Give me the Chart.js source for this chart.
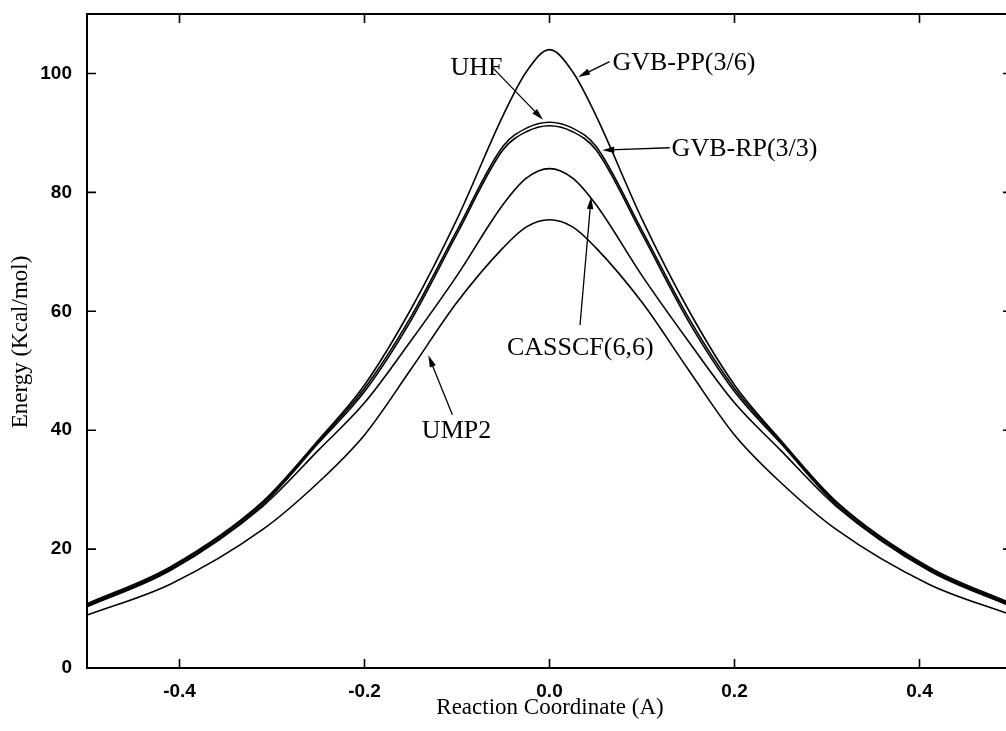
<!DOCTYPE html>
<html>
<head>
<meta charset="utf-8">
<title>Energy profile</title>
<script src="https://cdn.jsdelivr.net/npm/chart.js@4.4.0/dist/chart.umd.min.js"></script>
<style>
  html, body { margin: 0; padding: 0; background: #fff; overflow: hidden; }
  #canvas { display: block; }
</style>
</head>
<body>
<canvas id="canvas" width="1030" height="731"></canvas>
<script>
// reaction coordinate (A)
var coord  = [-0.5, -0.41, -0.31, -0.25, -0.2, -0.15, -0.1, -0.05, -0.025, 0, 0.025, 0.05, 0.1, 0.15, 0.2, 0.25, 0.31, 0.41, 0.5];

// energies (Kcal/mol)
var gvbPP  = [10.8, 17.0, 28.0, 38.3, 47.6, 60.3, 75.5, 93.0, 100.3, 104.0, 100.3, 93.0, 75.5, 60.3, 47.6, 38.3, 28.0, 17.0, 10.8];
var uhf    = [10.6, 16.8, 27.8, 38.1, 47.0, 59.0, 73.6, 87.8, 90.8, 91.8, 90.8, 87.8, 73.6, 59.0, 47.0, 38.1, 27.8, 16.8, 10.6];
var gvbRP  = [10.4, 16.6, 27.5, 37.8, 46.5, 58.4, 73.0, 87.2, 90.2, 91.2, 90.2, 87.2, 73.0, 58.4, 46.5, 37.8, 27.5, 16.6, 10.4];
var casscf = [10.3, 16.4, 27.2, 36.6, 44.6, 55.0, 66.0, 78.0, 82.4, 84.0, 82.4, 78.0, 66.0, 55.0, 44.6, 36.6, 27.2, 16.4, 10.3];
var ump2   = [8.9, 14.1, 23.3, 31.2, 39.2, 50.2, 61.5, 70.7, 74.2, 75.4, 74.2, 70.7, 61.5, 50.2, 39.2, 31.2, 23.3, 14.1, 8.9];

var xTicks = [-0.4, -0.2, 0, 0.2, 0.4];
var yTicks = [0, 20, 40, 60, 80, 100];

// curve labels: text anchor, arrow start and arrow tip, all in axis units
var notes = [
    { text: "GVB-PP(3/6)", at: [0.068, 100.6], from: [0.065, 102.0], to: [0.031, 99.4] },
    { text: "UHF",         at: [-0.107, 99.7], from: [-0.061, 100.9], to: [-0.007, 92.2] },
    { text: "GVB-RP(3/3)", at: [0.132, 86.1],  from: [0.130, 87.5],  to: [0.057, 87.1] },
    { text: "CASSCF(6,6)", at: [-0.046, 52.6], from: [0.033, 57.7],  to: [0.045, 79.2] },
    { text: "UMP2",        at: [-0.138, 38.7], from: [-0.105, 42.6], to: [-0.131, 52.6] }
];

var serif = "'Liberation Serif', 'Times New Roman', serif";
var sans = "'Liberation Sans', Arial, sans-serif";

function toPoints(ys) {
    return coord.map(function (x, i) { return { x: x, y: ys[i] }; });
}

function arrow(ctx, x1, y1, x2, y2) {
    var a = Math.atan2(y2 - y1, x2 - x1);
    var len = 12, half = 3.2;
    ctx.beginPath();
    ctx.moveTo(x1, y1);
    ctx.lineTo(x2 - Math.cos(a) * len * 0.6, y2 - Math.sin(a) * len * 0.6);
    ctx.stroke();
    ctx.beginPath();
    ctx.moveTo(x2, y2);
    ctx.lineTo(x2 - Math.cos(a) * len - Math.sin(a) * half, y2 - Math.sin(a) * len + Math.cos(a) * half);
    ctx.lineTo(x2 - Math.cos(a) * len + Math.sin(a) * half, y2 - Math.sin(a) * len - Math.cos(a) * half);
    ctx.closePath();
    ctx.fill();
}

// frame with inward ticks on all sides, axis titles and curve labels
var decorations = {
    id: 'decorations',
    afterDraw: function (chart) {
        var ctx = chart.ctx;
        var area = chart.chartArea;
        var sx = chart.scales.x, sy = chart.scales.y;
        ctx.save();
        ctx.strokeStyle = '#000';
        ctx.fillStyle = '#000';
        ctx.lineWidth = 2;
        ctx.strokeRect(area.left, area.top, area.right - area.left, area.bottom - area.top);

        ctx.lineWidth = 1.6;
        ctx.beginPath();
        xTicks.forEach(function (v) {
            var px = sx.getPixelForValue(v);
            ctx.moveTo(px, area.bottom); ctx.lineTo(px, area.bottom - 9);
            ctx.moveTo(px, area.top); ctx.lineTo(px, area.top + 9);
        });
        yTicks.forEach(function (v) {
            var py = sy.getPixelForValue(v);
            ctx.moveTo(area.left, py); ctx.lineTo(area.left + 9, py);
            ctx.moveTo(area.right, py); ctx.lineTo(area.right - 9, py);
        });
        ctx.stroke();

        ctx.font = '23px ' + serif;
        ctx.textAlign = 'center';
        ctx.textBaseline = 'alphabetic';
        ctx.fillText('Reaction Coordinate (A)', 550, 714);
        ctx.save();
        ctx.translate(27, 342);
        ctx.rotate(-Math.PI / 2);
        ctx.fillText('Energy (Kcal/mol)', 0, 0);
        ctx.restore();

        ctx.font = '26px ' + serif;
        ctx.textAlign = 'left';
        ctx.lineWidth = 1.3;
        notes.forEach(function (n) {
            ctx.fillText(n.text, sx.getPixelForValue(n.at[0]), sy.getPixelForValue(n.at[1]));
            arrow(ctx,
                sx.getPixelForValue(n.from[0]), sy.getPixelForValue(n.from[1]),
                sx.getPixelForValue(n.to[0]), sy.getPixelForValue(n.to[1]));
        });
        ctx.restore();
    }
};

var series = [gvbPP, uhf, gvbRP, casscf, ump2];
var names = ['GVB-PP(3/6)', 'UHF', 'GVB-RP(3/3)', 'CASSCF(6,6)', 'UMP2'];

var ctx = document.getElementById('canvas');
var chart = new Chart(ctx, {
    type: 'line',
    data: {
        datasets: series.map(function (ys, i) {
            return {
                label: names[i],
                data: toPoints(ys),
                borderColor: '#000',
                borderWidth: 1.6,
                pointRadius: 0,
                cubicInterpolationMode: 'monotone',
                fill: false
            };
        })
    },
    options: {
        responsive: false,
        animation: false,
        layout: { padding: { top: 14, right: 18, left: 0, bottom: 0 } },
        plugins: {
            legend: { display: false },
            tooltip: { enabled: false }
        },
        scales: {
            x: {
                type: 'linear',
                min: -0.5,
                max: 0.5,
                grid: { display: false, drawTicks: false },
                border: { display: false },
                afterBuildTicks: function (s) {
                    s.ticks = xTicks.map(function (v) { return { value: v }; });
                },
                afterFit: function (s) {
                    s.height = 63;
                    s.paddingLeft = 0;
                    s.paddingRight = 0;
                },
                ticks: {
                    padding: 12,
                    color: '#000',
                    maxRotation: 0,
                    font: { family: sans, size: 19, weight: 'bold' },
                    callback: function (v) { return v.toFixed(1); }
                }
            },
            y: {
                min: 0,
                max: 110,
                grid: { display: false, drawTicks: false },
                border: { display: false },
                afterBuildTicks: function (s) {
                    s.ticks = yTicks.map(function (v) { return { value: v }; });
                },
                afterFit: function (s) {
                    s.width = 87;
                    s.paddingTop = 0;
                    s.paddingBottom = 0;
                },
                ticks: {
                    padding: 15,
                    color: '#000',
                    font: { family: sans, size: 19, weight: 'bold' },
                    callback: function (v) { return String(v); }
                }
            }
        }
    },
    plugins: [decorations]
});
</script>
</body>
</html>
